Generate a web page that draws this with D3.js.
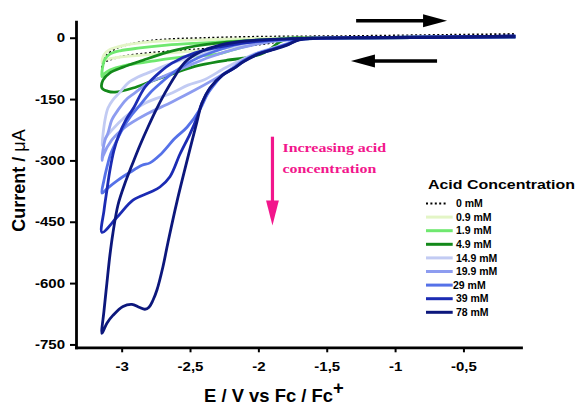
<!DOCTYPE html>
<html>
<head>
<meta charset="utf-8">
<script src="https://cdn.jsdelivr.net/npm/d3@7"></script>
<style>
  body { margin: 0; background: #fff; }
  svg { display: block; font-family: "Liberation Sans", Arial, sans-serif; }
</style>
</head>
<body>
<svg id="chart" width="580" height="406"></svg>
<script>
// axis ticks
const potentialTicks = [-3, -2.5, -2, -1.5, -1, -0.5];
const currentTicks = [0, -150, -300, -450, -600, -750];

// legend
const concLabels = [" 0 mM", " 0.9 mM", " 1.9 mM", " 4.9 mM", " 14.9 mM", " 19.9 mM", "29 mM", " 39 mM", " 78 mM"];
const concColors = ["#000000", "#e3f5c6", "#6fe86f", "#13891a", "#c2cbf3", "#8d9cf0", "#5571e8", "#1b2bb3", "#0c177c"];

// CV loops, [E (V vs Fc/Fc+), I (uA)] : forward scan to the vertex, then back
const cv0 = [
  [-1.6, 1], [-1.77, -3], [-1.915, -13], [-2.06, -19], [-2.28, -25], [-2.56, -31], [-2.87, -40],
  [-3.05, -50], [-3.13, -61], [-3.144, -72],
  [-3.13, -52], [-3.108, -42], [-3.064, -30], [-3.012, -22], [-2.87, -11], [-2.67, -4], [-2.43, -1],
  [-2.06, 2], [-1.33, 4], [-0.6, 7], [-0.12, 9]
];
const cv09 = [
  [-0.12, 2], [-0.6, 1], [-1.2, 0], [-1.6, -1], [-1.88, -3], [-2.06, -15], [-2.28, -27], [-2.57, -35],
  [-2.87, -43], [-3.05, -49], [-3.13, -55], [-3.144, -60],
  [-3.13, -42], [-3.086, -29], [-2.976, -18], [-2.793, -10], [-2.43, -5], [-2.06, -2], [-1.3, 0],
  [-0.6, 2], [-0.12, 3]
];
const cv19 = [
  [-0.12, 2], [-0.6, 1], [-1.2, 0], [-1.6, -1], [-1.84, -2], [-2.02, -15], [-2.19, -30], [-2.30, -40],
  [-2.55, -47], [-2.79, -58], [-2.98, -68], [-3.086, -79], [-3.13, -89], [-3.144, -95],
  [-3.137, -68], [-3.122, -52], [-3.086, -40], [-3.012, -32], [-2.866, -25], [-2.67, -18], [-2.43, -13],
  [-2.135, -8], [-1.84, -3], [-1.3, 0], [-0.6, 2], [-0.12, 3]
];
const cv49 = [
  [-0.12, 2], [-0.6, 1], [-1.2, 0], [-1.6, -1], [-1.77, -2], [-1.842, -10], [-1.915, -28], [-1.988, -41],
  [-2.113, -50], [-2.23, -55], [-2.427, -67], [-2.595, -84], [-2.793, -108], [-2.917, -123],
  [-3.049, -133], [-3.10, -131], [-3.144, -123],
  [-3.137, -104], [-3.086, -86], [-2.99, -72], [-2.844, -55], [-2.669, -36], [-2.522, -24], [-2.23, -11],
  [-1.988, -6], [-1.6, -2], [-1.2, 0], [-0.6, 2], [-0.12, 3]
];
const cv149 = [
  [-0.12, 2], [-0.6, 1], [-1.2, 0], [-1.55, -1], [-1.70, -4], [-1.79, -14], [-1.90, -26], [-2.0, -36],
  [-2.11, -52], [-2.244, -74], [-2.391, -102], [-2.515, -116], [-2.632, -135], [-2.83, -160],
  [-2.976, -194], [-3.072, -226], [-3.137, -255], [-3.144, -263],
  [-3.137, -238], [-3.122, -201], [-3.10, -172], [-3.064, -152], [-3.012, -133], [-2.954, -111],
  [-2.881, -96], [-2.808, -86], [-2.632, -62], [-2.427, -40], [-2.208, -23], [-1.952, -8], [-1.6, -2],
  [-1.2, 0], [-0.6, 2], [-0.12, 3]
];
const cv199 = [
  [-0.12, 2], [-0.6, 1], [-1.2, 0], [-1.55, -1], [-1.70, -4], [-1.79, -15], [-1.90, -27], [-2.0, -37],
  [-2.11, -55], [-2.244, -86], [-2.464, -128], [-2.632, -157], [-2.83, -189], [-2.976, -219],
  [-3.072, -250], [-3.137, -290], [-3.144, -300],
  [-3.137, -275], [-3.122, -250], [-3.10, -233], [-3.072, -201], [-3.027, -177], [-2.969, -152],
  [-2.903, -135], [-2.808, -111], [-2.705, -96], [-2.537, -72], [-2.354, -47], [-2.135, -25],
  [-1.915, -10], [-1.6, -2], [-1.2, 0], [-0.6, 2], [-0.12, 3]
];
const cv29 = [
  [-0.12, 2], [-0.6, 1], [-1.2, 0], [-1.55, -1], [-1.70, -4], [-1.79, -16], [-1.90, -28], [-2.0, -38],
  [-2.11, -57], [-2.18, -74], [-2.26, -91], [-2.33, -118], [-2.376, -140], [-2.427, -175],
  [-2.522, -219], [-2.61, -246], [-2.72, -287], [-2.793, -306], [-2.851, -312], [-2.939, -329],
  [-3.027, -348], [-3.10, -367], [-3.144, -380],
  [-3.129, -348], [-3.108, -317], [-3.078, -282], [-3.034, -250], [-2.99, -221], [-2.939, -194],
  [-2.866, -165], [-2.793, -135], [-2.705, -108], [-2.625, -86], [-2.478, -55], [-2.317, -33],
  [-2.135, -15], [-1.878, -6], [-1.5, -1], [-1.2, 0], [-0.6, 2], [-0.12, 4]
];
const cv39 = [
  [-0.12, 2], [-0.6, 1], [-1.2, 0], [-1.55, -1], [-1.70, -4], [-1.79, -17], [-1.90, -29], [-2.0, -39],
  [-2.11, -58], [-2.18, -75], [-2.26, -91], [-2.354, -123], [-2.413, -160], [-2.449, -195],
  [-2.50, -235], [-2.574, -285], [-2.647, -340], [-2.72, -365], [-2.793, -378], [-2.917, -397],
  [-3.034, -439], [-3.144, -476],
  [-3.129, -422], [-3.108, -373], [-3.086, -324], [-3.056, -275], [-3.02, -238], [-2.969, -201],
  [-2.91, -170], [-2.83, -121], [-2.72, -84], [-2.632, -62], [-2.464, -37], [-2.208, -18],
  [-1.915, -6], [-1.5, -1], [-1.2, 0], [-0.6, 2], [-0.12, 4]
];
const cv78 = [
  [-0.12, 2], [-0.6, 1], [-1.2, 0], [-1.55, -1], [-1.70, -5], [-1.79, -18], [-1.90, -30], [-2.0, -40],
  [-2.11, -59], [-2.18, -75], [-2.26, -91], [-2.354, -123], [-2.413, -160], [-2.449, -205],
  [-2.50, -272], [-2.595, -400], [-2.661, -500], [-2.698, -560], [-2.742, -617], [-2.771, -642],
  [-2.80, -659], [-2.83, -664], [-2.873, -659], [-2.925, -652], [-2.99, -657], [-3.064, -679],
  [-3.108, -698], [-3.144, -723],
  [-3.129, -667], [-3.108, -600], [-3.086, -532], [-3.064, -478], [-3.027, -409], [-2.976, -356],
  [-2.925, -312], [-2.866, -263], [-2.808, -219], [-2.749, -177], [-2.683, -135], [-2.61, -94],
  [-2.537, -60], [-2.427, -35], [-2.281, -18], [-2.098, -8], [-1.842, -3], [-1.3, 0], [-0.6, 2],
  [-0.12, 4]
];
const cvSeries = [cv0, cv09, cv19, cv49, cv149, cv199, cv29, cv39, cv78];

// annotation arrows, in data units
const scanArrows = [
  { from: [-1.285, 41.6], to: [-0.62, 41.6] },
  { from: [-0.693, -57], to: [-1.323, -57] },
];
const trendArrow = { from: [-1.897, -242], to: [-1.897, -459] };
const trendText = ["Increasing acid", "concentration"];

const PINK = "#f2168c";

class CVPlot {
  constructor(parent) {
    this.parent = parent;
    this.margin = { top: 21.7, left: 76 };
    this.width = 445;
    this.height = 325.6;
    this.initVis();
  }

  initVis() {
    let vis = this;
    vis.svg = d3.select(vis.parent);
    vis.chart = vis.svg
      .append("g")
      .attr("transform", `translate(${vis.margin.left}, ${vis.margin.top})`);

    vis.x = d3.scaleLinear().domain([-3.334, -0.079]).range([0, vis.width]);
    vis.y = d3.scaleLinear().domain([39.2, -757]).range([0, vis.height]);

    const locale = d3.formatLocale({
      decimal: ",", thousands: ".", grouping: [3], currency: ["", ""], minus: "-",
    });
    vis.xFmt = locale.format("");
    vis.yFmt = locale.format("d");

    vis.xAxisG = vis.chart.append("g").attr("transform", `translate(0, ${vis.height})`);
    vis.yAxisG = vis.chart.append("g");
    vis.renderVis();
  }

  renderVis() {
    let vis = this;

    vis.xAxisG.call(
      d3.axisBottom(vis.x).tickValues(potentialTicks).tickFormat(vis.xFmt)
        .tickSize(5).tickSizeOuter(0).tickPadding(9.5)
    );
    vis.yAxisG.call(
      d3.axisLeft(vis.y).tickValues(currentTicks).tickFormat(vis.yFmt)
        .tickSize(6).tickSizeOuter(0).tickPadding(5)
    );
    [vis.xAxisG, vis.yAxisG].forEach((g) => {
      g.select(".domain").attr("stroke-width", 2.8).attr("stroke-linecap", "square");
      g.selectAll(".tick line").attr("stroke-width", 2);
      g.selectAll(".tick text")
        .attr("font-family", "Liberation Sans, Arial, sans-serif")
        .attr("font-size", 12.5)
        .attr("font-weight", "bold")
        .attr("fill", "#000")
        .call(widen, 1.2);
    });

    const line = d3.line()
      .x((d) => vis.x(d[0]))
      .y((d) => vis.y(d[1]))
      .curve(d3.curveCatmullRom.alpha(0.5));

    vis.chart.selectAll(".cv")
      .data(cvSeries)
      .join("path")
      .attr("class", "cv")
      .attr("d", line)
      .attr("fill", "none")
      .attr("stroke", (d, i) => concColors[i])
      .attr("stroke-width", (d, i) => (i === 0 ? 2 : 2.8))
      .attr("stroke-dasharray", (d, i) => (i === 0 ? "2 2.4" : null))
      .attr("stroke-linejoin", "round");

    // scan direction arrows
    scanArrows.forEach((a) => {
      drawArrow(vis.chart, [vis.x(a.from[0]), vis.y(a.from[1])], [vis.x(a.to[0]), vis.y(a.to[1])],
        { color: "#000", width: 3.5, head: 24, half: 6.5 });
    });
    drawArrow(vis.chart,
      [vis.x(trendArrow.from[0]), vis.y(trendArrow.from[1])],
      [vis.x(trendArrow.to[0]), vis.y(trendArrow.to[1])],
      { color: PINK, width: 3.2, head: 25, half: 6.4 });

    vis.chart.selectAll(".trend")
      .data(trendText)
      .join("text")
      .attr("class", "trend")
      .attr("x", vis.x(trendArrow.from[0]) + 10)
      .attr("y", (d, i) => vis.y(trendArrow.from[1]) + 15.5 + i * 21)
      .attr("font-family", "Liberation Serif, Times New Roman, serif")
      .attr("font-weight", "bold")
      .attr("font-size", 13.5)
      .attr("fill", PINK)
      .text((d) => d)
      .call(widen, 1.18);

    vis.renderAxisTitles();
    vis.renderLegend();
  }

  renderAxisTitles() {
    let vis = this;
    const xl = vis.svg.append("text")
      .attr("transform", "translate(204, 401.5) scale(0.97, 1)")
      .attr("font-size", 19)
      .attr("font-weight", "bold");
    xl.append("tspan").text("E / V vs Fc / Fc");
    xl.append("tspan").attr("dy", -7.5).text("+");

    const yl = vis.svg.append("text")
      .attr("transform", "translate(25, 180.5) rotate(-90)")
      .attr("text-anchor", "middle")
      .attr("font-size", 18)
      .attr("font-weight", "bold");
    yl.append("tspan").style("white-space", "pre").text("Current / ");
    yl.append("tspan").attr("font-weight", "normal").text("μA");
  }

  renderLegend() {
    let vis = this;
    const lg = vis.svg.append("g");
    lg.append("text")
      .attr("x", 428)
      .attr("y", 189)
      .attr("font-size", 13.5)
      .attr("font-weight", "bold")
      .attr("textLength", 147)
      .attr("lengthAdjust", "spacingAndGlyphs")
      .text("Acid Concentration");

    const rows = lg.selectAll(".row")
      .data(concLabels)
      .join("g")
      .attr("class", "row")
      .attr("transform", (d, i) => `translate(0, ${203.5 + i * 13.6})`);

    rows.append("line")
      .attr("x1", 426)
      .attr("x2", (d, i) => (i === 0 ? 448 : 452.7))
      .attr("stroke", (d, i) => concColors[i])
      .attr("stroke-width", (d, i) => (i === 0 ? 2 : 3))
      .attr("stroke-dasharray", (d, i) => (i === 0 ? "2 2.4" : null));

    rows.append("text")
      .attr("x", 453)
      .attr("dy", "0.36em")
      .attr("font-size", 10.5)
      .attr("font-weight", "bold")
      .style("white-space", "pre")
      .text((d) => d);
  }
}

function widen(sel, k) {
  sel.each(function () {
    const w = this.getComputedTextLength();
    d3.select(this).attr("textLength", w * k).attr("lengthAdjust", "spacingAndGlyphs");
  });
}

function drawArrow(g, p0, p1, o) {
  const dx = p1[0] - p0[0], dy = p1[1] - p0[1];
  const len = Math.hypot(dx, dy);
  const ux = dx / len, uy = dy / len;
  const bx = p1[0] - ux * o.head, by = p1[1] - uy * o.head;
  g.append("line")
    .attr("x1", p0[0]).attr("y1", p0[1])
    .attr("x2", bx + ux).attr("y2", by + uy)
    .attr("stroke", o.color)
    .attr("stroke-width", o.width);
  g.append("path")
    .attr("d", `M${p1[0]},${p1[1]}L${bx - uy * o.half},${by + ux * o.half}L${bx + uy * o.half},${by - ux * o.half}Z`)
    .attr("fill", o.color);
}

new CVPlot(document.getElementById("chart"));
</script>
</body>
</html>
